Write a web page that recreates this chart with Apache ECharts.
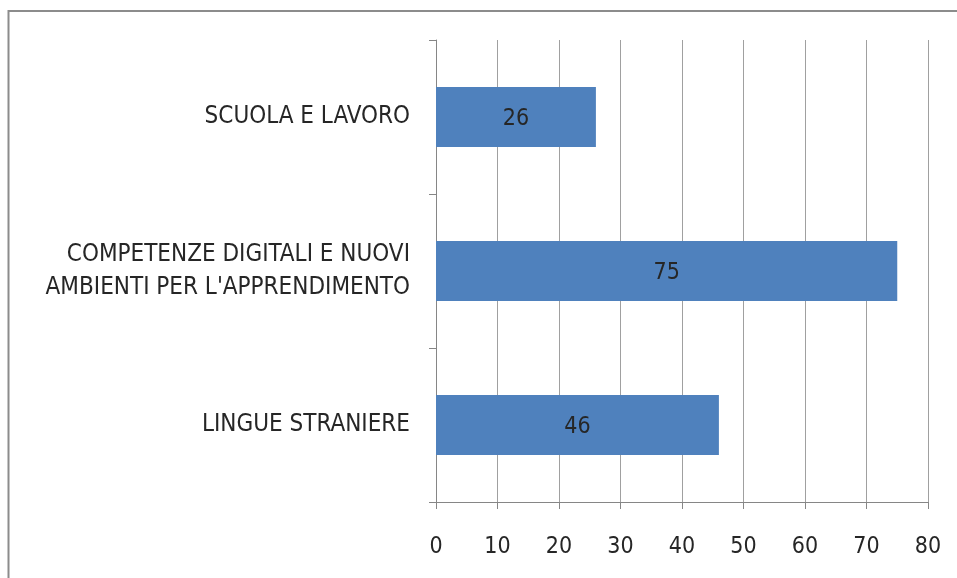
<!DOCTYPE html>
<html>
<head>
<meta charset="utf-8">
<script src="https://cdn.jsdelivr.net/npm/echarts@6/dist/echarts.min.js"></script>
<style>
html,body{margin:0;padding:0;background:#fff;}
#chart{width:957px;height:578px;}
</style>
</head>
<body>
<div id="chart"></div>
<script>
var categories = ['LINGUE STRANIERE', "COMPETENZE DIGITALI E NUOVI\nAMBIENTI PER L'APPRENDIMENTO", 'SCUOLA E LAVORO'];
var values = [46, 75, 26];
var xTicks = [0, 10, 20, 30, 40, 50, 60, 70, 80];

var FONT = '"Liberation Sans Narrow", "DejaVu Sans Condensed", "Liberation Sans", sans-serif';
var chart = echarts.init(document.getElementById('chart'));
chart.setOption({
  animation: false,
  backgroundColor: '#ffffff',
  graphic: [{
    type: 'rect',
    shape: {x: 8.5, y: 11, width: 1000, height: 1000},
    style: {fill: 'none', stroke: '#8c8c8c', lineWidth: 2},
    silent: true
  }],
  grid: {left: 436, top: 40, right: 29, bottom: 76, containLabel: false},
  xAxis: {
    type: 'value',
    min: xTicks[0],
    max: xTicks[xTicks.length - 1],
    interval: 10,
    axisLine: {show: true, lineStyle: {color: '#868686', width: 1}},
    axisTick: {show: true, length: 7, lineStyle: {color: '#868686'}},
    splitLine: {show: true, lineStyle: {color: '#a0a0a0', width: 1}},
    axisLabel: {
      show: true, margin: 34, fontSize: 23, color: '#262626', fontFamily: FONT,
      formatter: function (v) { return xTicks.indexOf(v) >= 0 ? String(v) : ''; }
    }
  },
  yAxis: {
    type: 'category',
    data: categories,
    axisLine: {show: true, lineStyle: {color: '#868686', width: 1}},
    axisTick: {show: true, length: 7, alignWithLabel: false, lineStyle: {color: '#868686'}},
    splitLine: {show: false},
    axisLabel: {
      margin: 26, fontSize: 24, lineHeight: 33, color: '#262626', fontFamily: FONT, align: 'right',
      padding: [5, 0, 0, 0]
    }
  },
  series: [{
    type: 'bar',
    data: values,
    barWidth: 60,
    itemStyle: {color: '#4f81bd'},
    label: {show: true, position: 'inside', offset: [0, 2], fontSize: 23, color: '#262626', fontFamily: FONT}
  }]
});
</script>
</body>
</html>
